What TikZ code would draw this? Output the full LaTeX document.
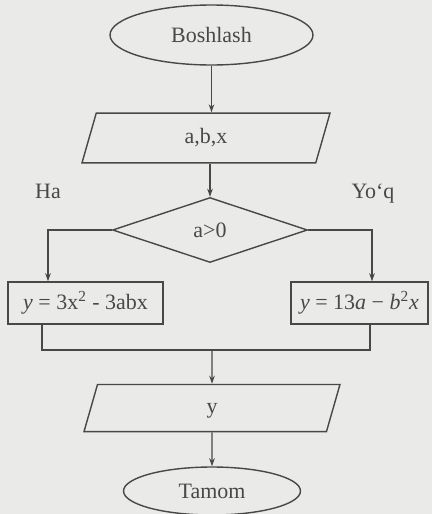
\documentclass[tikz,border=0pt]{standalone}
\usepackage{fontspec}
\setmainfont{Liberation Serif}
\usepackage{tikz}
\usetikzlibrary{shapes.geometric,arrows.meta,positioning,calc}
\definecolor{scanpaper}{RGB}{234,234,232}
\definecolor{scanink}{RGB}{72,72,72}

\begin{document}
\begin{tikzpicture}[x=0.02cm, y=-0.02cm,
term/.style={ellipse, draw=scanink, line width=0.8pt, text=scanink, inner sep=0pt,
font=\fontsize{12.5}{14}\selectfont},
io/.style={trapezium, trapezium left angle=74, trapezium right angle=106,
draw=scanink, line width=0.8pt, text=scanink, inner xsep=0pt, align=center,
text height=9pt, text depth=3pt, font=\fontsize{12.5}{14}\selectfont},
cond/.style={diamond, draw=scanink, line width=0.8pt, text=scanink, inner sep=0pt,
minimum width=3.9cm, minimum height=1.3cm, font=\fontsize{12.5}{14}\selectfont},
proc/.style={rectangle, draw=scanink, line width=0.8pt, text=scanink, inner sep=0pt,
minimum height=0.84cm, font=\fontsize{12.5}{14}\selectfont},
lbl/.style={text=scanink, font=\fontsize{12.5}{14}\selectfont},
line/.style={draw=scanink, line width=0.8pt},
arrow/.style={-{Stealth[length=1.6mm, width=1.1mm]}, line width=0.8pt, draw=scanink}
]

\useasboundingbox (0,0) rectangle (432,514);
\fill[scanpaper] (0,0) rectangle (432,514);

\node[term, minimum width=4.06cm, minimum height=1.2cm] (start) at (211.5,35) {Boshlash};
\node[io, text width=4.39cm, inner ysep=8.2pt] (inp) at (206,138) {a,b,x};
\node[cond] (dec) at (210,230) {a>0};
\node[lbl] (ha) at (48,191) {Ha};
\node[lbl] (yoq) at (373,194) {Yo‘q};

\node[proc, minimum width=3.1cm] (lbox) at (85.5,303) {\textit{y} = 3x\textsuperscript{2} - 3abx};
\node[proc, minimum width=2.74cm] (rbox) at (359.5,303) {\textit{y} = 13\textit{a} − \textit{b}\textsuperscript{2}\textit{x}};

\node[io, text width=4.58cm, inner ysep=7.4pt] (outp) at (212,408) {y};
\node[term, minimum width=3.54cm, minimum height=0.96cm] (stop) at (212,491) {Tamom};

% branch columns and the joining point
\coordinate (lx) at (48,0);
\coordinate (rx) at (372,0);
\coordinate (lj) at (42,0);
\coordinate (rj) at (370,0);
\coordinate (join) at (212,350);

\draw[arrow] (start.south) -- (inp.north -| start.south);
\draw[arrow] (inp.south -| dec.north) -- (dec.north);
\draw[arrow] (dec.west) -| (lbox.north -| lx);
\draw[arrow] (dec.east) -| (rbox.north -| rx);
\draw[line] (lbox.south -| lj) |- (join) -| (rbox.south -| rj);
\draw[arrow] (join) -- (outp.north);
\draw[arrow] (outp.south) -- (stop.north);

\end{tikzpicture}
\end{document}
